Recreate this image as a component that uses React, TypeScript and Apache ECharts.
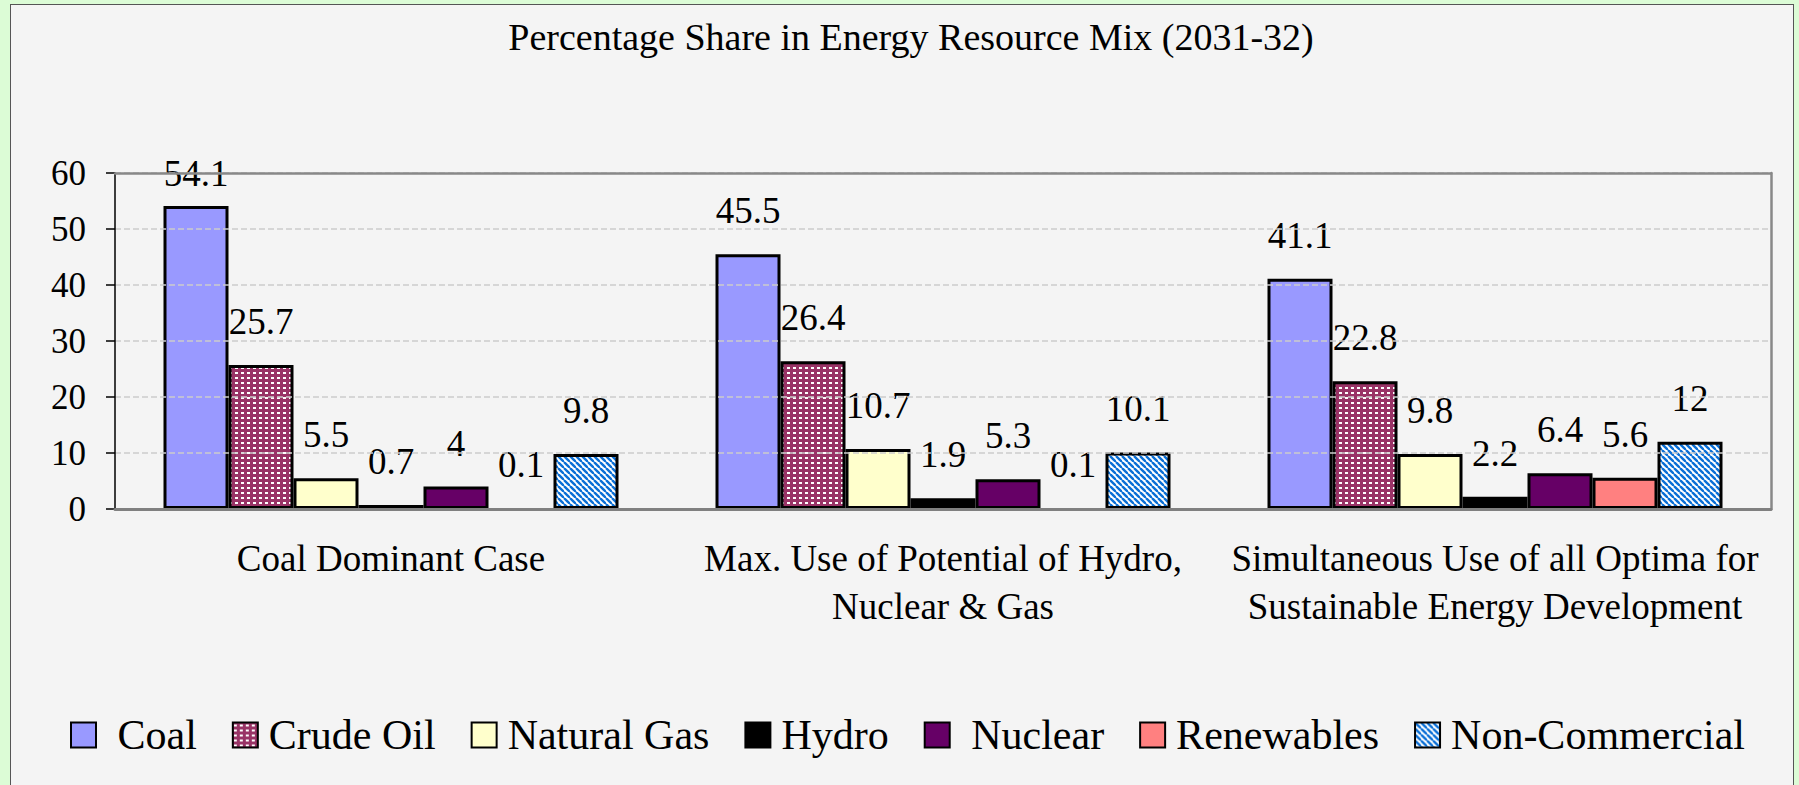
import React, { useEffect, useRef } from 'react';
import * as echarts from 'echarts';

const titleText = 'Percentage Share in Energy Resource Mix (2031-32)';
const categories = [
  'Coal Dominant Case',
  'Max. Use of Potential of Hydro,\nNuclear & Gas',
  'Simultaneous Use of all Optima for\nSustainable Energy Development',
];
const seriesNames = ['Coal', 'Crude Oil', 'Natural Gas', 'Hydro', 'Nuclear', 'Renewables', 'Non-Commercial'];
const coal = [54.1, 45.5, 41.1];
const crudeOil = [25.7, 26.4, 22.8];
const naturalGas = [5.5, 10.7, 9.8];
const hydro = [0.7, 1.9, 2.2];
const nuclear = [4, 5.3, 6.4];
const renewables = [0.1, 0.1, 5.6];
const nonCommercial = [9.8, 10.1, 12];
const yMin = 0;
const yMax = 60;
const yStep = 10;

const FONT = '"Liberation Serif", "Times New Roman", serif';

function dotPattern() {
  const c = document.createElement('canvas');
  c.width = 6;
  c.height = 5;
  const g = c.getContext('2d')!;
  g.fillStyle = '#993366';
  g.fillRect(0, 0, 6, 5);
  g.fillStyle = '#ffffff';
  g.fillRect(1, 2, 3, 2);
  return { image: c, repeat: 'repeat', imageWidth: 6, imageHeight: 5 } as any;
}

function stripePattern() {
  const s = 6;
  const c = document.createElement('canvas');
  c.width = s;
  c.height = s;
  const g = c.getContext('2d')!;
  g.fillStyle = '#ffffff';
  g.fillRect(0, 0, s, s);
  g.strokeStyle = '#0a6fd6';
  g.lineWidth = 2.4;
  for (const k of [-s, 0, s]) {
    g.beginPath();
    g.moveTo(k, 0);
    g.lineTo(k + s, s);
    g.stroke();
  }
  return { image: c, repeat: 'repeat', imageWidth: s, imageHeight: s } as any;
}

export default function App() {
  const ref = useRef<HTMLDivElement>(null);

  useEffect(() => {
    if (!ref.current) return;
    const chart = echarts.init(ref.current, null, { renderer: 'svg' });
    const values = [coal, crudeOil, naturalGas, hydro, nuclear, renewables, nonCommercial];
    const colors: any[] = ['#9999ff', dotPattern(), '#ffffcc', '#000000', '#660066', '#ff8080', stripePattern()];

    const series = seriesNames.map((name, i) => ({
      name,
      type: 'bar',
      xAxisIndex: 0,
      yAxisIndex: 0,
      barWidth: 65,
      barGap: '0%',
      itemStyle: { color: colors[i], borderColor: '#000', borderWidth: 3 },
      label: {
        show: true,
        position: 'top',
        distance: 25,
        fontSize: 37,
        fontFamily: FONT,
        color: '#000',
      },
      data: values[i].map((v) => {
        const item: any = { value: v };
        if (v < 0.3) item.itemStyle = { borderWidth: 0 };
        if (v > 52) item.label = { distance: 14 };
        return item;
      }),
    }));

    chart.setOption({
      animation: false,
      backgroundColor: 'transparent',
      title: {
        text: titleText,
        left: 906,
        textAlign: 'center',
        top: 13,
        textStyle: { fontFamily: FONT, fontSize: 38, fontWeight: 'normal', color: '#000' },
      },
      legend: {
        data: seriesNames,
        left: 65,
        top: 709,
        icon: 'rect',
        itemWidth: 25,
        itemHeight: 25,
        itemGap: 35,
        formatter: (n: string) => (n === 'Coal' || n === 'Nuclear' ? ' ' + n : n),
        textStyle: { fontFamily: FONT, fontSize: 42, color: '#000', padding: [0, 0, 0, 6] },
      },
      grid: {
        left: 115,
        right: 28,
        top: 173,
        bottom: 276,
        show: false,
      },
      xAxis: [
        {
          type: 'category',
          data: categories,
          z: 10,
          axisLine: { onZero: false, lineStyle: { color: '#808080', width: 3 } },
          axisTick: { show: false },
          axisLabel: {
            interval: 0,
            fontFamily: FONT,
            fontSize: 37,
            lineHeight: 48,
            margin: 25,
            color: '#000',
          },
        },
        {
          type: 'category',
          data: categories,
          position: 'top',
          z: 10,
          axisLine: { show: true, onZero: false, lineStyle: { color: '#888888', width: 2.5 } },
          axisTick: { show: false },
          axisLabel: { show: false },
          splitLine: { show: false },
        },
      ],
      yAxis: [
        {
          type: 'value',
          min: yMin,
          max: yMax,
          interval: yStep,
          z: 8,
          axisLine: { show: true, onZero: false, lineStyle: { color: '#000', width: 1.5 } },
          axisTick: { show: true, length: 9, lineStyle: { color: '#000', width: 1.5 } },
          axisLabel: { fontFamily: FONT, fontSize: 35, margin: 29, color: '#000' },
          splitLine: { show: true, lineStyle: { color: '#cccccc', type: 'dashed', width: 1.5 } },
        },
        {
          type: 'value',
          min: yMin,
          max: yMax,
          interval: yStep,
          position: 'right',
          z: 10,
          axisLine: { show: true, onZero: false, lineStyle: { color: '#888888', width: 2.5 } },
          axisTick: { show: false },
          axisLabel: { show: false },
          splitLine: { show: false },
        },
      ],
      series,
    });
    return () => chart.dispose();
  }, []);

  return (
    <div
      style={{
        position: 'fixed',
        left: 0,
        top: 0,
        width: 1799,
        height: 785,
        background: '#dcfcd6',
        overflow: 'hidden',
      }}
    >
      <div
        style={{
          position: 'absolute',
          left: 10,
          top: 4,
          width: 1784,
          height: 800,
          boxSizing: 'border-box',
          background: '#f4f4f4',
          border: '1.5px solid #555',
        }}
      />
      <div ref={ref} style={{ position: 'absolute', left: 0, top: 0, width: 1799, height: 785 }} />
    </div>
  );
}
